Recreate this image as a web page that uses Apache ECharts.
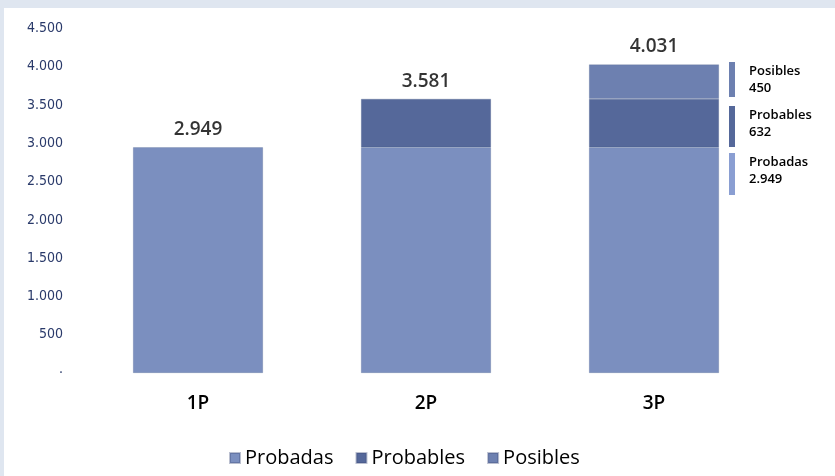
<!DOCTYPE html>
<html>
<head>
<meta charset="utf-8">
<script src="https://cdn.jsdelivr.net/npm/echarts@6/dist/echarts.min.js"></script>
<style>
html,body{margin:0;padding:0;background:#dfe6f0;}
#wrap{position:absolute;left:4px;top:8px;right:0;bottom:0;background:#fff;}
#c{position:absolute;left:0;top:0;width:835px;height:476px;}
</style>
</head>
<body>
<div id="wrap"></div>
<div id="c"></div>
<script>
const categories = ['1P', '2P', '3P'];
const probadas = [2949, 2949, 2949];
const probables = [0, 632, 632];
const posibles = [0, 0, 450];
const totals = [2949, 3581, 4031];
const yTicks = [0, 500, 1000, 1500, 2000, 2500, 3000, 3500, 4000, 4500];
const sideNotes = [
  {name: 'Posibles', value: 450},
  {name: 'Probables', value: 632},
  {name: 'Probadas', value: 2949}
];

const colors = {Probadas: '#7b8fbf', Probables: '#55689a', Posibles: '#6d80b0'};
const sideColors = {Probadas: '#8a9ed2', Probables: '#55689a', Posibles: '#6d80b0'};

function fmt(v) {
  return String(v).replace(/\B(?=(\d{3})+(?!\d))/g, '.');
}

const chart = echarts.init(document.getElementById('c'), null, {renderer: 'canvas'});
const FONT = '"Open Sans", "DejaVu Sans", sans-serif';

function seg(name, data) {
  return {
    name: name, type: 'bar', stack: 'total', barWidth: 130,
    itemStyle: {color: colors[name], borderColor: 'rgba(60,75,120,0.35)', borderWidth: 0.6},
    data: data.map(v => v === 0 ? null : v)
  };
}

const sideY = [62, 106, 153];
const sideH = [35, 41, 42];
const graphics = [];
sideNotes.forEach((n, i) => {
  graphics.push({type: 'rect', left: 729, top: sideY[i], shape: {width: 6, height: sideH[i]}, style: {fill: sideColors[n.name]}});
  graphics.push({type: 'text', left: 749, top: sideY[i] + 1, style: {text: n.name + '\n' + fmt(n.value), fill: '#000', font: '600 13px ' + FONT, lineHeight: 17}});
});

chart.setOption({
  animation: false,
  backgroundColor: 'transparent',
  grid: {left: 84, right: 67, top: 28.5, bottom: 103, containLabel: false},
  legend: {
    left: 224, top: 443, itemWidth: 10, itemHeight: 10, itemGap: 22,
    icon: 'rect',
    textStyle: {fontSize: 20, fontWeight: 500, color: '#000', fontFamily: FONT},
    data: ['Probadas', 'Probables', 'Posibles']
  },
  xAxis: {
    type: 'category', data: categories,
    axisLine: {show: false}, axisTick: {show: false},
    axisLabel: {fontSize: 19, fontWeight: 600, color: '#000', margin: 21, fontFamily: FONT}
  },
  yAxis: {
    type: 'value', min: 0, max: 4500, interval: 500,
    axisLine: {show: false}, axisTick: {show: false}, splitLine: {show: false},
    axisLabel: {
      fontSize: 14, color: '#2a3a6a', margin: 21, fontFamily: '"DejaVu Sans Condensed", sans-serif',
      formatter: v => v === 0 ? '·' : fmt(v)
    }
  },
  series: [
    seg('Probadas', probadas),
    seg('Probables', probables),
    seg('Posibles', posibles),
    {
      name: 'Total', type: 'scatter', symbolSize: 0, data: totals, silent: true,
      label: {show: true, position: 'top', distance: 8, formatter: p => fmt(p.value),
        fontSize: 19, fontWeight: 600, color: '#000', fontFamily: FONT}
    }
  ],
  graphic: graphics
});
</script>
</body>
</html>
